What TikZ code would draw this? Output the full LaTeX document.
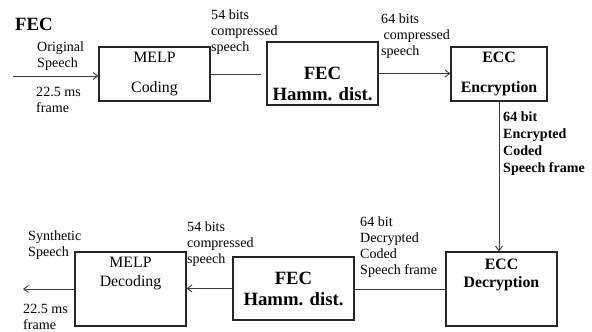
\documentclass[tikz,border=0pt]{standalone}
\usepackage{fontspec}
\setmainfont{Liberation Serif}
\usetikzlibrary{arrows.meta, positioning}
\definecolor{boxLine}{HTML}{262626}
\definecolor{linkLine}{HTML}{3A3A3A}

\begin{document}
\begin{tikzpicture}[
    x=0.03cm, y=-0.03cm,
    block/.style={rectangle, draw=boxLine, line width=0.9pt, align=center,
                  inner sep=0pt, font=\fontsize{13.5}{16}\selectfont},
    fecbox/.style={block, font=\fontsize{16}{18}\selectfont\bfseries},
    boxtext/.style={align=center, inner sep=0pt, font=\fontsize{13.5}{16}\selectfont},
    fectext/.style={align=center, inner sep=0pt, font=\fontsize{16}{18}\selectfont\bfseries},
    note/.style={align=left, inner sep=0pt, font=\fontsize{12}{13.5}\selectfont},
    boldnote/.style={note, font=\fontsize{12}{14.5}\selectfont\bfseries},
    link/.style={draw=linkLine, line width=0.8pt},
    arr/.style={link, -{Straight Barb[length=4pt, width=6pt]}},
  ]
  \useasboundingbox (0,0) rectangle (592,331);

  % upper chain
  \node[anchor=west, inner sep=0pt, font=\fontsize{16}{18}\selectfont\bfseries] (title) at (15,24) {FEC};
  \node[block, minimum width=3.33cm, minimum height=1.62cm] (melpc) at (154.5,74) {MELP\\[9.5pt]Coding};
  \node[block, minimum width=3.33cm, minimum height=1.89cm] (fec1) at (322.5,73.5) {};
  \node[fectext] (fec1txt) at ([yshift=-9pt]fec1.center) {FEC\\Hamm. dist.};
  \node[block, font=\fontsize{13.5}{16}\selectfont\bfseries, minimum width=2.88cm, minimum height=1.62cm] (ecce) at (499,74) {ECC\\[9.5pt]Encryption};

  % lower chain
  \node[block, minimum width=3.33cm, minimum height=2.22cm] (eccd) at (501.5,289) {};
  \node[boxtext, anchor=north, font=\fontsize{13.5}{16}\selectfont\bfseries] (eccdtxt) at ([yshift=-6pt]eccd.north) {ECC\\Decryption};
  \node[fecbox, minimum width=3.63cm, minimum height=1.89cm] (fec2) at (293.5,288.5) {FEC\\Hamm. dist.};
  \node[block, minimum width=3.33cm, minimum height=2.22cm] (melpd) at (130.5,289) {};
  \node[boxtext, anchor=north] (melpdtxt) at ([yshift=-5pt]melpd.north) {MELP\\Decoding};

  % end points
  \coordinate (inp) at (13,76);
  \coordinate (outp) at (23,289);

  % labels
  \node[note, anchor=north west] (origtxt) at (37,42) {Original\\Speech};
  \node[note, anchor=north west] (inframe) at (36,87) {22.5 ms\\frame};
  \node[note, anchor=north west] (bits54a) at (211,10) {54 bits\\compressed\\speech};
  \node[note, anchor=north west] (bits64a) at (381,14) {64 bits\\\hspace{2pt}compressed\\speech};
  \node[boldnote, anchor=north west] (enctxt) at (503,112) {64 bit\\Encrypted\\Coded\\Speech frame};
  \node[note, anchor=north west] (dectxt) at (360,217) {64 bit\\Decrypted\\Coded\\Speech frame};
  \node[note, anchor=north west] (bits54b) at (187,222) {54 bits\\compressed\\speech};
  \node[note, anchor=north west] (synthtxt) at (28,231) {Synthetic\\Speech};
  \node[note, anchor=north west] (outframe) at (23,304) {22.5 ms\\frame};

  % connectors
  \draw[arr] (inp) -- (inp -| melpc.west);
  \draw[link, shorten >=5pt] (melpc.east) -- (melpc.east -| fec1.west);
  \draw[arr] (fec1.east) -- (fec1.east -| ecce.west);
  \draw[arr] (ecce.south) -- (ecce.south |- eccd.north);
  \draw[link] (eccd.west) -- (eccd.west -| fec2.east);
  \draw[arr] (fec2.west) -- (fec2.west -| melpd.east);
  \draw[arr] (melpd.west) -- (outp);
\end{tikzpicture}
\end{document}
